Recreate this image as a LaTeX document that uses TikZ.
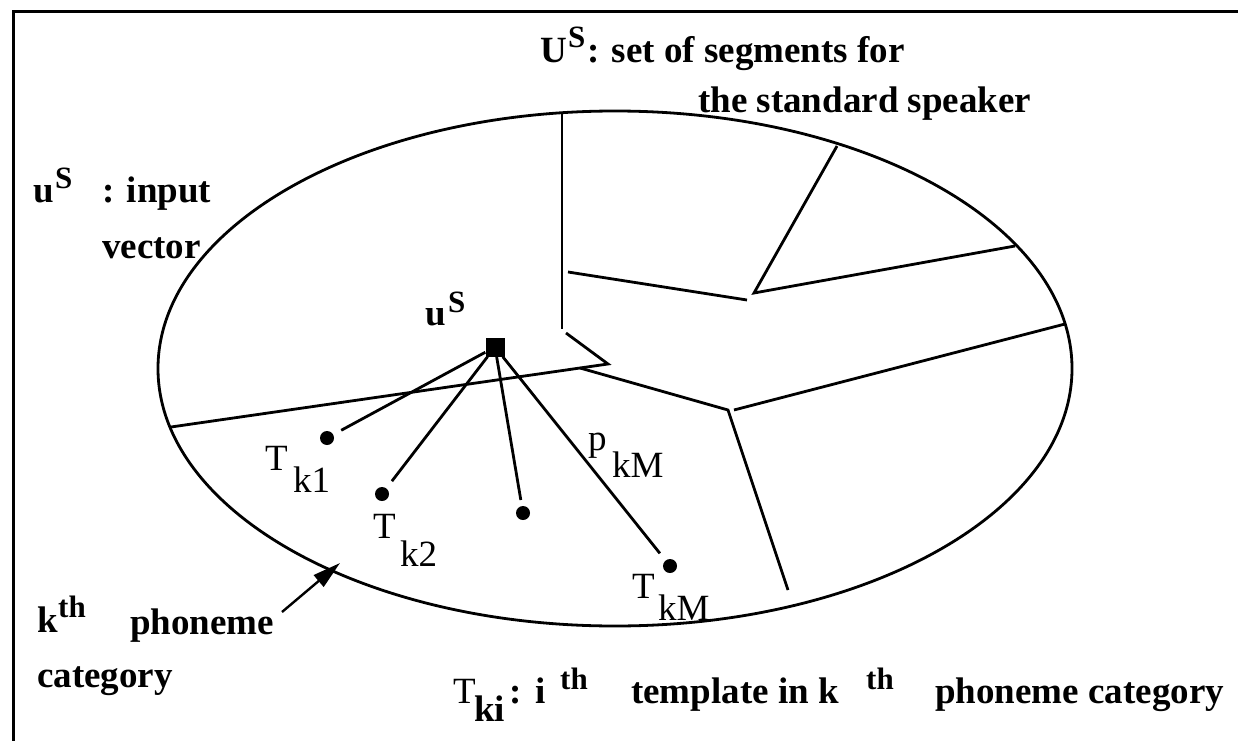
\documentclass[tikz,border=0pt]{standalone}
\usepackage{fontspec}
\setmainfont{Liberation Serif}
\usetikzlibrary{arrows.meta}
\begin{document}
\begin{tikzpicture}[x=1pt,y=-1pt,
  seg/.style={line width=2.8pt},
  lbl/.style={anchor=base west, inner sep=0pt, font=\fontsize{37}{44}\selectfont\bfseries},
  ilbl/.style={anchor=base west, inner sep=0pt, font=\fontsize{37}{44}\selectfont},
  suplbl/.style={anchor=base west, inner sep=0pt, font=\fontsize{31}{36}\selectfont\bfseries},
  dotnode/.style={circle, fill=black, inner sep=0pt, minimum size=14pt},
  sqnode/.style={rectangle, fill=black, inner sep=0pt, minimum size=19pt},
  link/.style={line width=2.8pt, shorten >=9pt}]
\useasboundingbox (0,0) rectangle (1238,741);
% frame
\draw[line width=3pt] (1238,12) -- (13,12) -- (13,741);
% ellipse
\draw[seg] (615,368.5) ellipse [x radius=457, y radius=257.5];
% segment boundaries
\coordinate (v1) at (562,112);
\coordinate (v2) at (562,329);
\coordinate (n1) at (566,333);
\coordinate (n2) at (608,364);
\coordinate (n3) at (580,368);
\coordinate (le) at (171,427);
\coordinate (jn) at (728,410);
\coordinate (jd) at (788,590);
\coordinate (jr0) at (734,410);
\coordinate (jr) at (1065,324);
\coordinate (ur0) at (837,146);
\coordinate (uv) at (754,293);
\coordinate (ur) at (1015,246);
\coordinate (mh0) at (568,272);
\coordinate (mh1) at (747,300);
\draw[seg] (v1) -- (v2);
\draw[seg] (n1) -- (n2) -- (n3) -- (le);
\draw[seg] (n3) -- (jn) -- (jd);
\draw[seg] (jr0) -- (jr);
\draw[seg] (ur0) -- (uv) -- (ur);
\draw[seg] (mh0) -- (mh1);
% input vector and templates
\node[sqnode] (u) at (495,347) {};
\node[dotnode] (d1) at (327,438) {};
\node[dotnode] (d2) at (382,494) {};
\node[dotnode] (d3) at (523,513) {};
\node[dotnode] (dM) at (670,566) {};
\draw[link] (u) -- (d1);
\draw[link] (u) -- (d2);
\draw[link, shorten >=6pt] (u) -- (d3);
\draw[link] (u) -- (dM);
% labels near points
\node[lbl] (us) at (425,325) {u};
\node[suplbl] (uss) at (448,312) {S};
\node[ilbl] (tk1) at (265,470) {T};
\node[ilbl] (tk1s) at (293,492) {k1};
\node[ilbl] (tk2) at (373,538) {T};
\node[ilbl] (tk2s) at (400,566) {k2};
\node[ilbl] (pkm) at (588,450) {p};
\node[ilbl] (pkms) at (612,477) {kM};
\node[ilbl] (tkm) at (632,598) {T};
\node[ilbl] (tkms) at (658,620) {kM};
% top caption
\node[lbl] (U) at (540,63) {U};
\node[suplbl] (US) at (568,48) {S};
\node[lbl] (Ut) at (587,63) {: set of segments for};
\node[lbl] (Ut2) at (698,113) {the standard speaker};
% input vector caption
\node[lbl] (iu) at (33,202) {u};
\node[suplbl] (ius) at (55,188) {S};
\node[lbl] (it) at (102,202) {: input};
\node[lbl] (iv) at (102,258) {vector};
% phoneme category caption
\node[lbl] (kk) at (37,632) {k};
\node[suplbl] (kth) at (58,617) {th};
\node[lbl] (ph) at (130,634) {phoneme};
\node[lbl] (cat) at (37,687) {category};
\coordinate (arrtip) at (340,563);
\draw[line width=2.4pt, -{Triangle[length=28pt,width=15pt]}] (282,612) -- (arrtip);
% bottom caption
\node[ilbl] (bT) at (453,703) {T};
\node[lbl] (bki) at (474,721) {ki};
\node[lbl] (bc) at (509,703) {:};
\node[lbl] (bi) at (535,703) {i};
\node[suplbl] (bth) at (560,689) {th};
\node[lbl] (btm) at (631,703) {template in k};
\node[suplbl] (bth2) at (866,689) {th};
\node[lbl] (bpc) at (935,703) {phoneme category};
\end{tikzpicture}
\end{document}
